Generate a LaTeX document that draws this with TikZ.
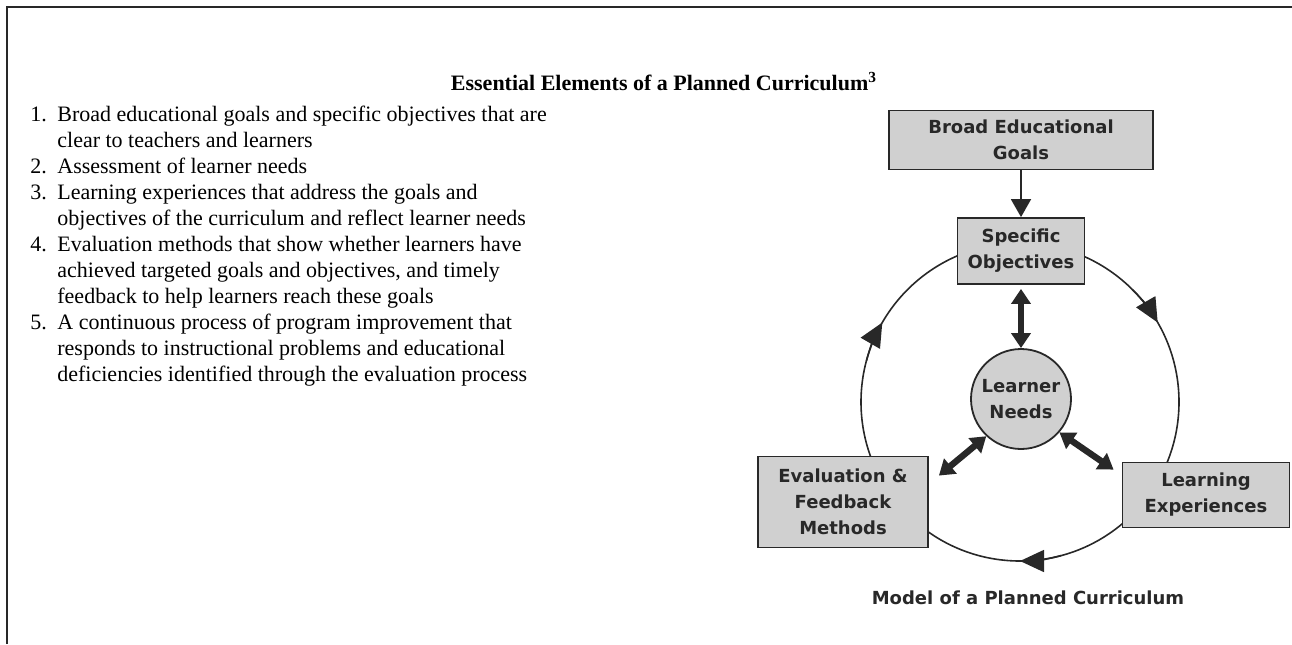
\documentclass[tikz,border=0pt]{standalone}
\usepackage{fontspec}
\setmainfont{Liberation Serif}
\newfontfamily\diagfont{DejaVu Sans}
\usetikzlibrary{arrows.meta}
\tikzset{>=latex}
\definecolor{boxgray}{RGB}{208,208,208}
\definecolor{inkgray}{RGB}{40,40,40}
\tikzstyle{curbox}=[draw=inkgray,fill=boxgray,line width=0.9pt,text=inkgray,font=\diagfont\bfseries\fontsize{9}{13}\selectfont,align=center,inner sep=0pt]
\tikzstyle{fatarrow}=[{Triangle[width=9.5pt,length=7.5pt]}-{Triangle[width=9.5pt,length=7.5pt]},draw=inkgray,line width=3.2pt]
\tikzstyle{cyclearrow}=[-{Triangle[width=11pt,length=12pt]},draw=inkgray,line width=0.8pt]
\newcommand{\numline}[2]{\makebox[13.5pt][l]{#1}#2}

\begin{document}
\begin{tikzpicture}[x=0.5pt,y=-0.5pt]
    \useasboundingbox (0,0) rectangle (1292,644);
    \draw[inkgray,line width=1pt] (7,644) -- (7,7) -- (1292,7);

    \node[font=\bfseries\fontsize{11}{13}\selectfont] (title) at (664,82) {Essential Elements of a Planned Curriculum\textsuperscript{3}};
    \node[anchor=north west,inner sep=0pt,align=left,font=\fontsize{11}{13}\selectfont] (list) at (30,106) {%
      \numline{1.}{Broad educational goals and specific objectives that are}\\
      \numline{}{clear to teachers and learners}\\
      \numline{2.}{Assessment of learner needs}\\
      \numline{3.}{Learning experiences that address the goals and}\\
      \numline{}{objectives of the curriculum and reflect learner needs}\\
      \numline{4.}{Evaluation methods that show whether learners have}\\
      \numline{}{achieved targeted goals and objectives, and timely}\\
      \numline{}{feedback to help learners reach these goals}\\
      \numline{5.}{A continuous process of program improvement that}\\
      \numline{}{responds to instructional problems and educational}\\
      \numline{}{deficiencies identified through the evaluation process}};

    % the cycle
    \coordinate (hub) at (1020,402);
    \draw[inkgray,line width=0.8pt] (hub) circle[radius=159];
    \draw[cyclearrow] (hub) ++(-45:159) arc[start angle=-45,end angle=-30,radius=159];
    \draw[cyclearrow] (hub) ++(75:159) arc[start angle=75,end angle=90,radius=159];
    \draw[cyclearrow] (hub) ++(195:159) arc[start angle=195,end angle=210,radius=159];

    \node[curbox,minimum width=132pt,minimum height=29.5pt] (goals) at (1021,140) {Broad Educational\\Goals};
    \node[curbox,minimum width=63.5pt,minimum height=33pt] (objectives) at (1021,251) {Specific\\Objectives};
    \node[curbox,circle,minimum size=50pt] (needs) at (1021,399) {Learner\\Needs};
    \node[curbox,minimum width=85pt,minimum height=45.5pt] (evaluation) at (843,502) {Evaluation \&\\Feedback\\Methods};
    \node[curbox,minimum width=83.5pt,minimum height=32.5pt] (experiences) at (1206,495) {Learning\\Experiences};

    \draw[inkgray,line width=0.9pt,-{Triangle[width=10pt,length=9pt]}] (goals) -- (objectives);
    \draw[fatarrow,shorten <=2pt] (objectives) -- (needs);
    \draw[fatarrow] (needs.227) -- ([shift={(5pt,-10pt)}]evaluation.north east);
    \draw[fatarrow] (needs.319) -- ([shift={(-4pt,-4pt)}]experiences.north west);

    \node[text=inkgray,font=\diagfont\bfseries\fontsize{9}{11}\selectfont] (caption) at (1028,598) {Model of a Planned Curriculum};
\end{tikzpicture}
\end{document}
